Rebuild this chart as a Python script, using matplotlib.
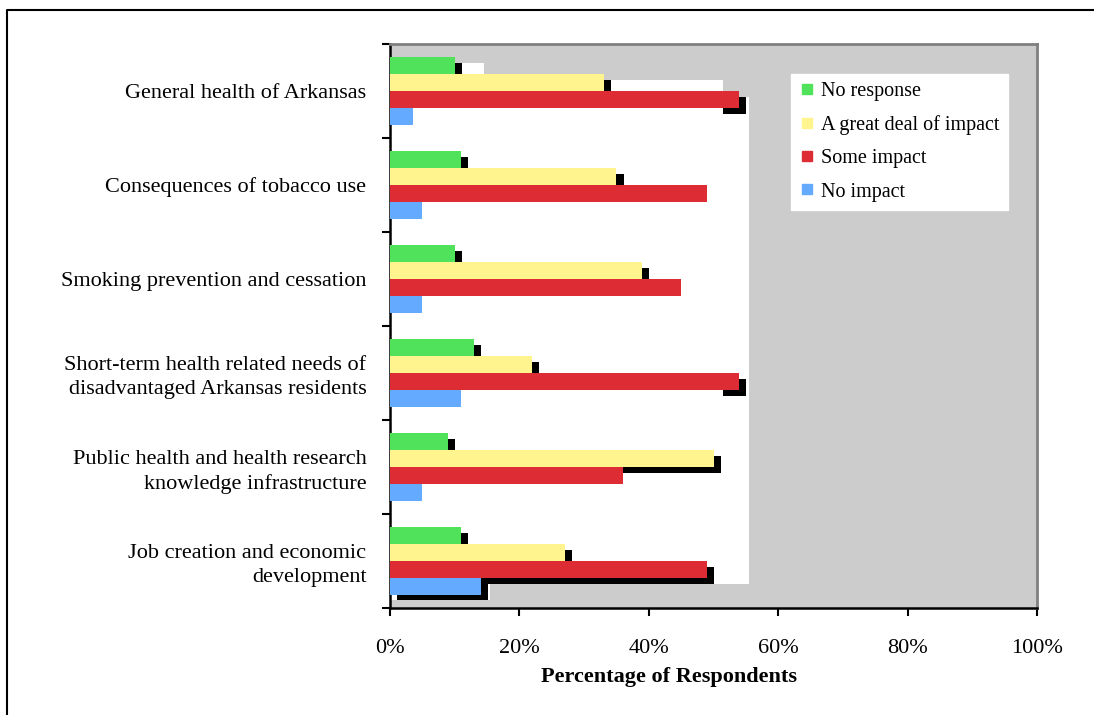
import matplotlib
matplotlib.use("Agg")
import matplotlib.pyplot as plt
import numpy as np
from matplotlib.lines import Line2D

plt.rcParams['font.family'] = ['Liberation Serif', 'DejaVu Serif']

categories = [
    "General health of Arkansas",
    "Consequences of tobacco use",
    "Smoking prevention and cessation",
    "Short-term health related needs of\ndisadvantaged Arkansas residents",
    "Public health and health research\nknowledge infrastructure",
    "Job creation and economic\ndevelopment",
]
no_response = [10, 11, 10, 13, 9, 11]
great_deal = [33, 35, 39, 22, 50, 27]
some_impact = [54, 49, 45, 54, 36, 49]
no_impact = [3.6, 5, 5, 11, 5, 14]

x_ticks = [0, 20, 40, 60, 80, 100]
x_tick_labels = ["0%", "20%", "40%", "60%", "80%", "100%"]

series = [
    ("No response", no_response, "#50e25a"),
    ("A great deal of impact", great_deal, "#fff48d"),
    ("Some impact", some_impact, "#dd2c33"),
    ("No impact", no_impact, "#64aaff"),
]

W, H = 1094, 715
fig = plt.figure(figsize=(W / 100, H / 100), dpi=100)
ax = fig.add_axes([390 / W, 1 - 608 / H, (1037 - 390) / W, (608 - 44) / H])
ax.set_facecolor("#cccccc")

y = np.arange(len(categories))
bar_h = 0.18
offsets = [-0.27, -0.09, 0.09, 0.27]
dx, dy = 1.1, 0.06

# drop shadows: each series gets a white box behind it, then black offsets,
# drawn from the last series up so earlier boxes hide later shadows
for (name, vals, col), off in reversed(list(zip(series, offsets))):
    top = y[0] + off - bar_h / 2 + dy
    bottom = y[-1] + off + bar_h / 2 + dy
    ax.barh((top + bottom) / 2, max(vals) + dx + 0.4, height=bottom - top,
            color="white", zorder=1)
    ax.barh(y + off + dy, vals, left=dx, height=bar_h, color="black", zorder=1)

for (name, vals, col), off in zip(series, offsets):
    ax.barh(y + off, vals, height=bar_h, color=col, label=name, zorder=3)

ax.set_xlim(0, 100)
ax.set_ylim(len(categories) - 0.5, -0.5)

ax.set_xticks(x_ticks)
ax.set_xticklabels(x_tick_labels, fontsize=16)
ax.tick_params(axis="x", direction="out", length=6, width=1.5, pad=16)

ax.set_yticks(np.arange(-0.5, len(categories)))
ax.set_yticklabels([])
ax.set_yticks(y, minor=True)
ax.set_yticklabels(categories, minor=True, fontsize=16, multialignment="right",
                   linespacing=1.35)
ax.tick_params(axis="y", which="major", direction="out", length=6, width=1.5)
ax.tick_params(axis="y", which="minor", length=0, pad=17)

for side in ("left", "bottom"):
    ax.spines[side].set_color("black")
    ax.spines[side].set_linewidth(1.8)
for side in ("top", "right"):
    ax.spines[side].set_color("#808080")
    ax.spines[side].set_linewidth(2)

fig.text(669 / W, 1 - 677 / H, "Percentage of Respondents", fontsize=16,
         fontweight="bold", ha="center", va="center")

handles = [Line2D([], [], marker="s", linestyle="none", markersize=7.5,
                  markerfacecolor=col, markeredgecolor=col)
           for _, _, col in series]
leg = fig.legend(handles, [s[0] for s in series], loc="upper left",
                 bbox_to_anchor=(791 / W, 1 - 74 / H), fontsize=14.5,
                 frameon=True, fancybox=False, borderaxespad=0,
                 handlelength=0.8, handletextpad=0.3, labelspacing=0.7,
                 borderpad=0.4)
leg.get_frame().set_facecolor("white")
leg.get_frame().set_edgecolor("white")
leg.get_frame().set_alpha(1)

# outer frame around the whole chart
fig.add_artist(Line2D([7 / W, 7 / W, 1.0], [0.0, 1 - 10 / H, 1 - 10 / H],
                      transform=fig.transFigure, color="black", linewidth=1.5))

fig.savefig("out.png", dpi=100)
